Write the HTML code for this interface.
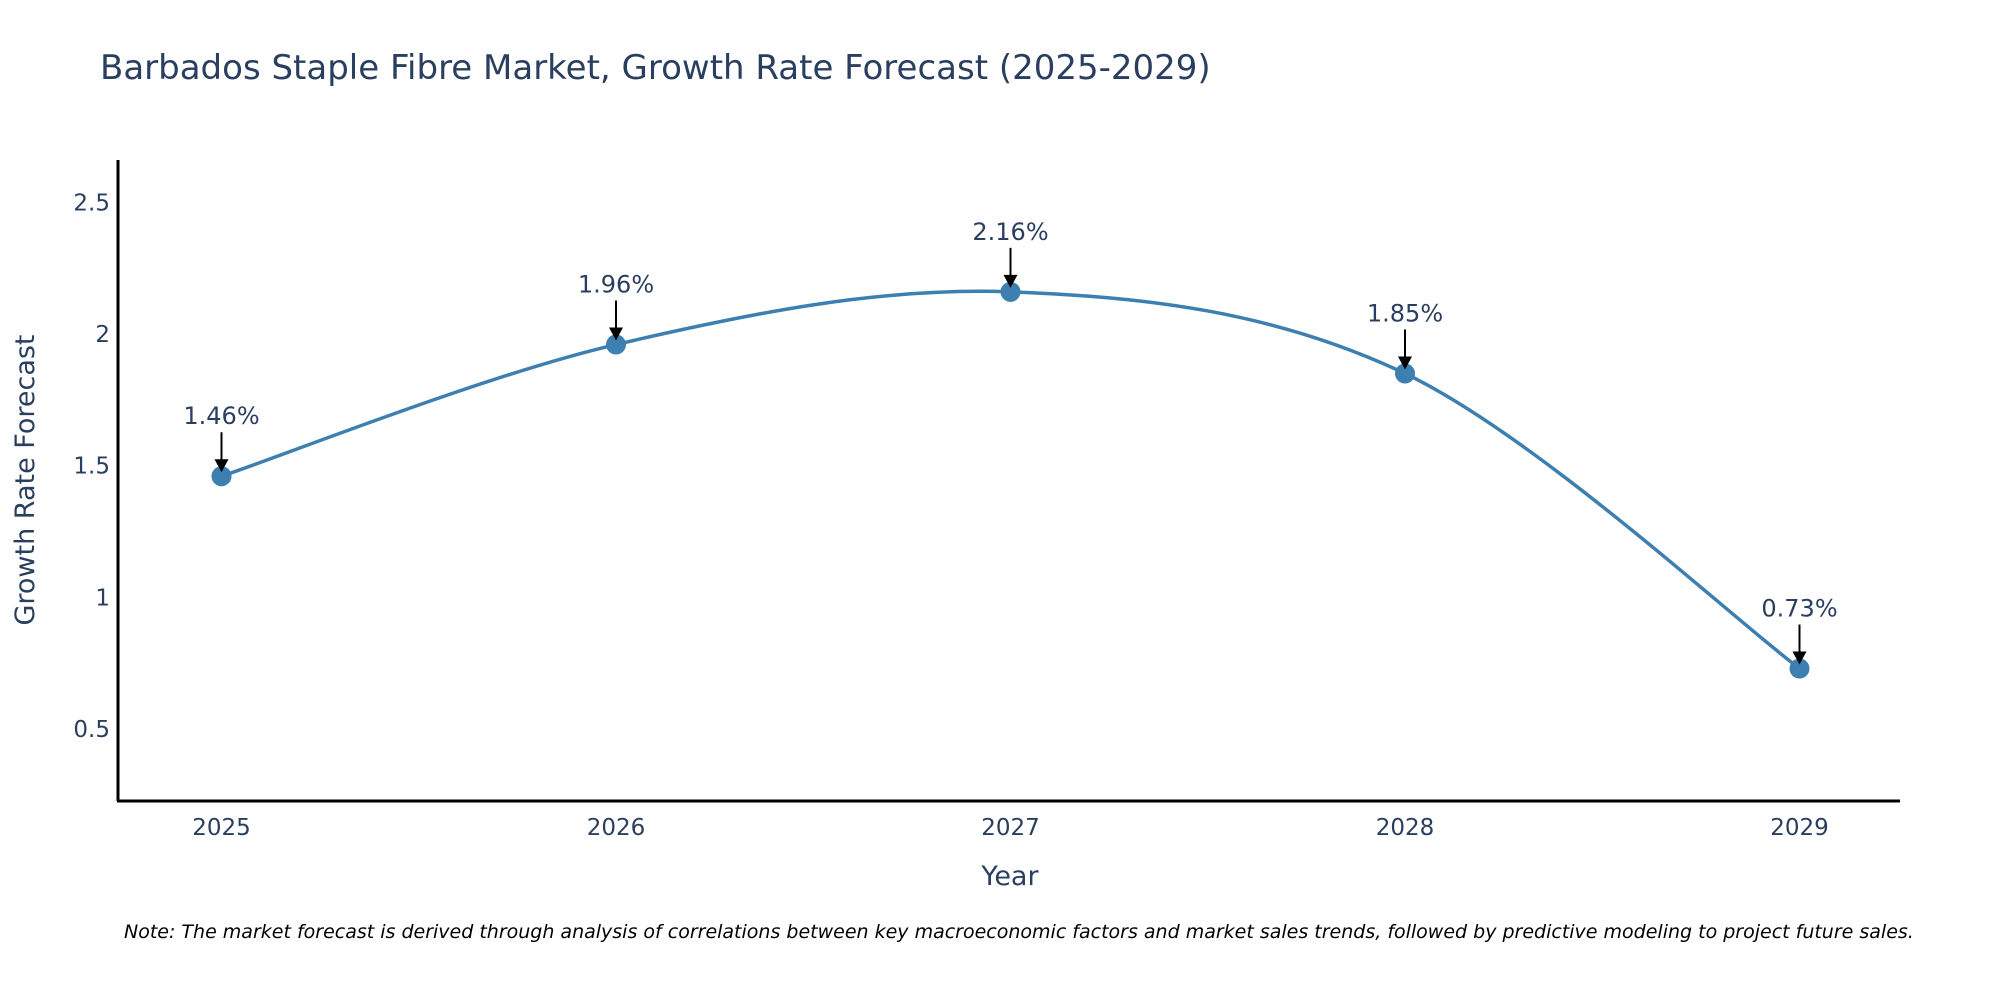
<!DOCTYPE html>
<html><head><meta charset="utf-8"><style>
body{margin:0;background:#fff;}
svg text{font-family:"DejaVu Sans","Liberation Sans",sans-serif;fill:#2a3f5f;}
</style></head><body>
<svg id="chart" width="2000" height="1000" xmlns="http://www.w3.org/2000/svg">
<text x="100" y="79" font-size="34">Barbados Staple Fibre Market, Growth Rate Forecast (2025-2029)</text>
<g id="plot"></g>
<text x="1010" y="885" font-size="27" text-anchor="middle">Year</text>
<text transform="translate(34,480) rotate(-90)" font-size="27" text-anchor="middle">Growth Rate Forecast</text>
<text x="124" y="938" font-size="19" font-style="italic" style="fill:#000">Note: The market forecast is derived through analysis of correlations between key macroeconomic factors and market sales trends, followed by predictive modeling to project future sales.</text>
</svg>
<script>
const years = ["2025","2026","2027","2028","2029"];
const values = [1.46, 1.96, 2.16, 1.85, 0.73];
const yTicks = [0.5, 1, 1.5, 2, 2.5];
const labels = ["1.46%","1.96%","2.16%","1.85%","0.73%"];

const NS="http://www.w3.org/2000/svg";
const g=document.getElementById('plot');
const x0=221.5, dx=394.5;
function xs(i){return x0+i*dx;}
function ys(v){return 334-(v-2)*263.4;}
function mk(tag,attrs){const e=document.createElementNS(NS,tag);for(const k in attrs)e.setAttribute(k,attrs[k]);g.appendChild(e);return e;}

let ax=mk('line',{x1:118,y1:160,x2:118,y2:801,stroke:'#000','stroke-width':3});


ax=mk('line',{x1:117,y1:801,x2:1900,y2:801,stroke:'#000','stroke-width':3});



yTicks.forEach(t=>{
  const e=mk('text',{x:110,y:ys(t)+8,'font-size':23,'text-anchor':'end'});
  e.textContent=String(t);
  
  
});
years.forEach((yr,i)=>{
  const e=mk('text',{x:xs(i),y:835,'font-size':23,'text-anchor':'middle'});
  e.textContent=yr;
  
  
});

const pts=values.map((v,i)=>[xs(i),ys(v)]);
let d='M'+pts[0][0]+','+pts[0][1];
const s=1/6;
for(let i=0;i<pts.length-1;i++){
  const p0=pts[Math.max(i-1,0)],p1=pts[i],p2=pts[i+1],p3=pts[Math.min(i+2,pts.length-1)];
  const c1=[p1[0]+(p2[0]-p0[0])*s,p1[1]+(p2[1]-p0[1])*s];
  const c2=[p2[0]-(p3[0]-p1[0])*s,p2[1]-(p3[1]-p1[1])*s];
  d+=' C'+c1[0]+','+c1[1]+' '+c2[0]+','+c2[1]+' '+p2[0]+','+p2[1];
}
const line=mk('path',{d:d,fill:'none',stroke:'#3d7fb1','stroke-width':3.5});



pts.forEach((p,i)=>{
  const c=mk('circle',{cx:p[0],cy:p[1],r:10,fill:'#3d7fb1'});
  
  
  const l=mk('line',{x1:p[0],y1:p[1]-44,x2:p[0],y2:p[1]-16,stroke:'#000','stroke-width':2});
  
  
  const a=mk('polygon',{points:(p[0]-7)+','+(p[1]-17)+' '+(p[0]+7)+','+(p[1]-17)+' '+p[0]+','+(p[1]-4),fill:'#000'});
  
  
  const t=mk('text',{x:p[0],y:p[1]-52,'font-size':24,'text-anchor':'middle'});
  t.textContent=labels[i];
  
  
});
</script>
</body></html>
